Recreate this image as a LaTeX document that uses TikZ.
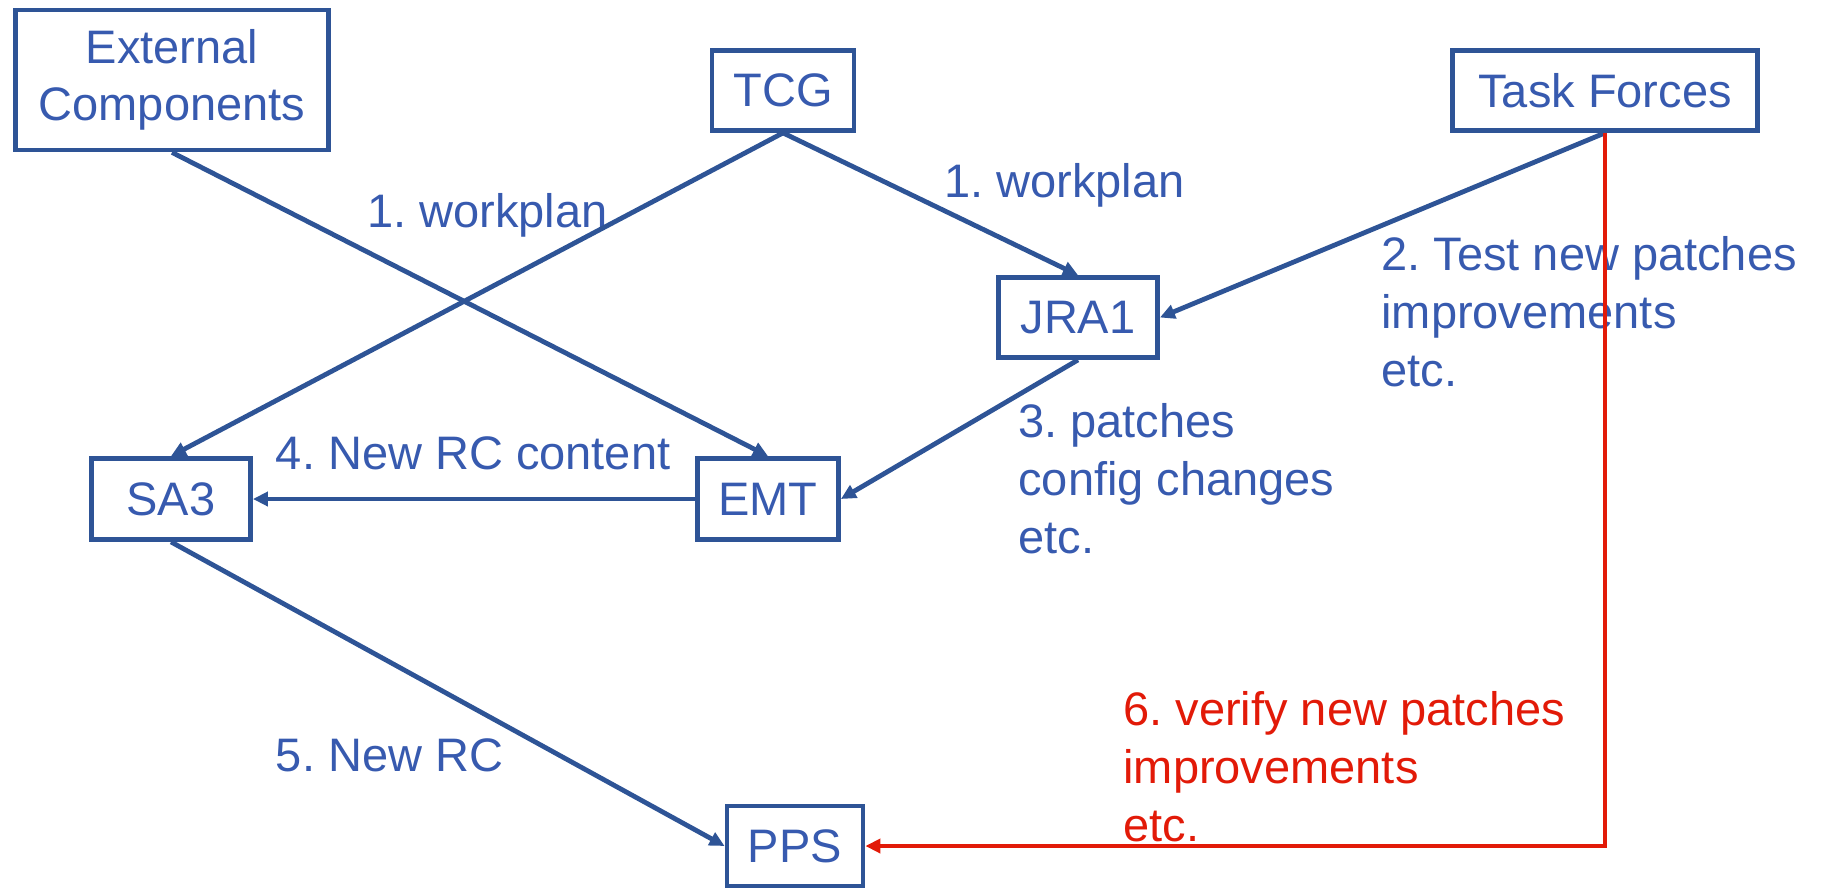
\documentclass[tikz,border=0pt]{standalone}
\usepackage{fontspec}
\setmainfont{Liberation Sans}
\usetikzlibrary{arrows.meta}
\definecolor{lineblue}{RGB}{46,84,150}
\definecolor{txtblue}{RGB}{55,90,175}
\definecolor{vred}{RGB}{226,26,8}
\frenchspacing
\begin{document}
\begin{tikzpicture}[x=0.5pt,y=-0.5pt,
  box/.style={draw=lineblue, line width=2.4pt, text=txtblue, minimum height=40pt, inner sep=0pt,
    font=\fontsize{23.5}{28.5}\selectfont, align=center},
  lbl/.style={text=txtblue, inner sep=0pt, anchor=base west, font=\fontsize{23.5}{29}\selectfont},
  conn/.style={draw=lineblue, line width=2.4pt, -{Triangle[length=7.5pt,width=7pt]}},
  redconn/.style={draw=vred, line width=2.4pt, -{Triangle[length=7.5pt,width=7pt]}}]
\useasboundingbox (0,0) rectangle (1825,889);
% boxes
\node[box, minimum width=156.5pt, minimum height=70pt] (ext) at (172,80) {External\\Components};
\node[box, minimum width=71pt] (tcg) at (783,90.5) {TCG};
\node[box, minimum width=152.5pt] (tf) at (1605,90.5) {Task Forces};
\node[box, minimum width=79.5pt] (jra1) at (1078,317.5) {JRA1};
\node[box, minimum width=79.5pt, minimum height=40.5pt] (sa3) at (171,499) {SA3};
\node[box, minimum width=70.5pt, minimum height=40.5pt] (emt) at (768,499) {EMT};
\node[box, minimum width=68pt] (pps) at (795,846) {PPS};
% labels
\node[lbl] (wp1) at (367,227) {1. workplan};
\node[lbl] (wp2) at (944,197) {1. workplan};
\node[lbl] (test) at (1381,270) {\begin{tabular}[t]{@{}l@{}}2. Test new patches\\improvements\\etc.\end{tabular}};
\node[lbl] (patch) at (1018,437) {\begin{tabular}[t]{@{}l@{}}3. patches\\config changes\\etc.\end{tabular}};
\node[lbl] (newrcc) at (275.5,469) {4. New RC content};
\node[lbl] (newrc) at (275.5,771) {5. New RC};
\node[lbl, text=vred] (verify) at (1123,725) {\begin{tabular}[t]{@{}l@{}}6. verify new patches\\improvements\\etc.\end{tabular}};
% connectors
\draw[conn] (ext.south) -- (emt.north);
\draw[conn] (tcg.south) -- (sa3.north);
\draw[conn] (tcg.south) -- (jra1.north);
\draw[conn] (tf.south) -- (jra1.east);
\draw[conn] (jra1.south) -- (emt.east);
\draw[conn] (emt.west) -- (sa3.east);
\draw[conn] (sa3.south) -- (pps.west);
\draw[redconn] (tf.south) |- (pps.east);
\end{tikzpicture}
\end{document}
